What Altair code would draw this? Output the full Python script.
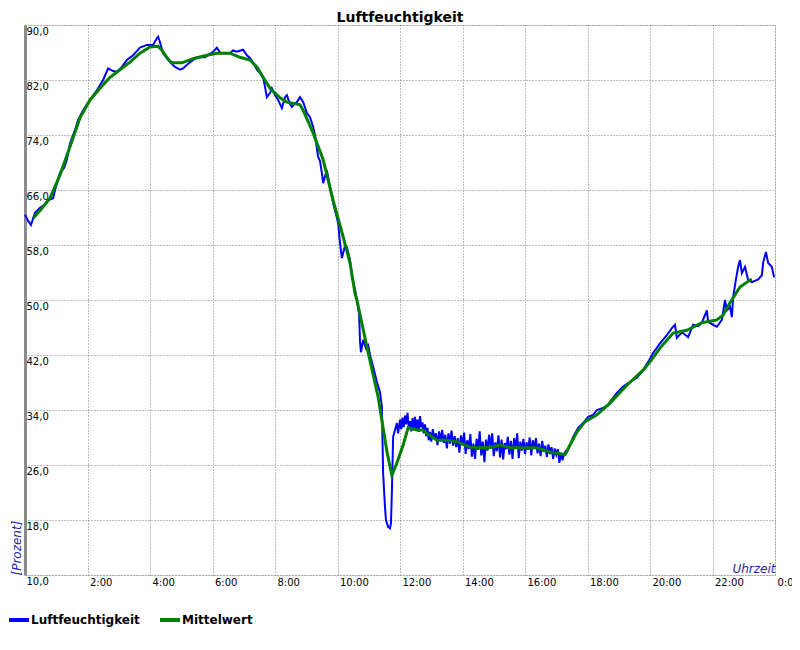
import altair as alt
import pandas as pd

# Luftfeuchtigkeit (blue) – hours, percent
lf_hours = [0.00, 0.10, 0.19, 0.32, 0.48, 0.61, 0.74, 0.90, 0.96, 1.12, 1.25, 1.34, 1.44, 1.60, 1.70, 1.86,
            2.08, 2.30, 2.50, 2.66, 2.82, 2.94, 3.10, 3.26, 3.46, 3.68, 3.90, 4.10, 4.22, 4.26, 4.32, 4.42,
            4.54, 4.64, 4.80, 4.96, 5.06, 5.18, 5.28, 5.50, 5.76, 5.92, 6.02, 6.14, 6.24, 6.34, 6.56, 6.66,
            6.78, 6.98, 7.10, 7.20, 7.33, 7.42, 7.52, 7.62, 7.68, 7.74, 7.84, 7.90, 8.00, 8.10, 8.22, 8.32,
            8.38, 8.48, 8.54, 8.64, 8.70, 8.80, 8.90, 9.02, 9.12, 9.22, 9.28, 9.38, 9.44, 9.50, 9.54, 9.66,
            9.76, 9.86, 9.95, 10.02, 10.08, 10.14, 10.24, 10.30, 10.40, 10.46, 10.56, 10.62, 10.69, 10.72,
            10.75, 10.82, 10.91, 10.98, 11.04, 11.14, 11.26, 11.36, 11.42, 11.46, 11.52, 11.55, 11.62, 11.68,
            11.71, 11.74, 11.78, 11.84, 11.90, 11.94,
            12.00, 12.04, 12.08, 12.12, 12.16, 12.20, 12.24, 12.28, 12.32, 12.36, 12.40, 12.44, 12.48, 12.52,
            12.56, 12.60, 12.64, 12.68, 12.72, 12.76, 12.80, 12.84, 12.88, 12.92, 12.96, 13.00, 13.05, 13.10,
            13.15, 13.20, 13.25, 13.30, 13.35, 13.40, 13.45, 13.50, 13.55, 13.60, 13.65, 13.70, 13.75, 13.80,
            13.85, 13.90, 13.95, 14.00, 14.05, 14.10, 14.15, 14.20, 14.25, 14.30, 14.35, 14.40, 14.45, 14.50,
            14.55, 14.60, 14.65, 14.70, 14.75, 14.80, 14.85, 14.90, 14.95, 15.00, 15.05, 15.10, 15.15, 15.20,
            15.25, 15.30, 15.35, 15.40, 15.45, 15.50, 15.55, 15.60, 15.65, 15.70, 15.75, 15.80, 15.85, 15.90,
            15.95, 16.00, 16.05, 16.10, 16.15, 16.20, 16.25, 16.30, 16.35, 16.40, 16.45, 16.50, 16.55, 16.60,
            16.65, 16.70, 16.75, 16.80, 16.85, 16.90, 16.95, 17.00, 17.05, 17.10, 17.15, 17.20, 17.25, 17.30,
            17.34, 17.44, 17.54, 17.70, 17.86, 18.02, 18.18, 18.30, 18.50, 18.66, 18.72, 18.94,
            19.14, 19.36, 19.58, 19.78, 19.94, 20.10, 20.32, 20.54, 20.70, 20.80, 20.86, 21.02, 21.22, 21.38,
            21.54, 21.66, 21.82, 21.86, 22.02, 22.14, 22.30, 22.40, 22.46, 22.56, 22.62, 22.66, 22.75, 22.82,
            22.88, 22.94, 23.04, 23.14, 23.26, 23.46, 23.58, 23.62, 23.71, 23.78, 23.90, 23.97]
lf_values = [62.4, 61.5, 60.9, 62.7, 63.4, 63.8, 64.5, 64.8, 66.0, 68.5, 69.2, 70.4, 72.8, 74.7, 76.2, 77.6,
             79.1, 80.5, 82.0, 83.7, 83.3, 83.2, 83.9, 84.9, 85.6, 86.7, 87.1, 87.1, 88.1, 88.3, 87.5, 85.9,
             85.2, 84.6, 83.9, 83.5, 83.7, 84.2, 84.6, 85.3, 85.3, 85.8, 86.1, 86.7, 86.0, 85.9, 85.9, 86.3,
             86.1, 86.4, 85.6, 85.2, 84.3, 83.5, 83.0, 82.4, 81.0, 79.5, 80.1, 80.8, 79.8, 79.1, 77.9, 79.5,
             79.8, 78.5, 78.1, 78.6, 78.8, 79.5, 78.8, 77.2, 76.6, 75.2, 74.0, 70.8, 70.2, 68.5, 67.0, 68.9,
             66.4, 64.1, 62.5, 61.2, 58.3, 56.1, 57.9, 57.7, 55.8, 53.4, 51.5, 50.0, 48.0, 44.0,
             42.4, 44.2, 43.0, 43.4, 42.0, 40.3, 38.1, 36.6, 34.5, 24.8, 19.9, 18.0, 17.0, 16.8,
             17.5, 22.0, 30.1, 31.1, 32.1, 30.6,
             32.6, 31.2, 32.9, 31.5, 33.2, 31.9, 33.6, 31.6, 32.4, 30.9, 32.8, 31.4, 33.0, 31.2,
             32.6, 30.8, 33.1, 31.5, 32.2, 30.6, 31.9, 30.2, 31.4, 29.6, 30.8, 29.4, 31.2, 29.8,
             30.6, 28.9, 30.9, 29.5, 31.1, 29.2, 30.4, 28.4, 30.6, 29.1, 31.0, 28.8, 30.2, 28.6,
             29.9, 27.8, 30.3, 28.9, 30.7, 27.6, 29.6, 28.3, 30.5, 27.2, 29.1, 26.9, 29.8, 28.2,
             30.9, 27.4, 29.4, 26.4, 29.7, 28.1, 30.4, 28.6, 30.6, 27.3, 29.3, 28.0, 30.3, 27.1,
             29.7, 26.8, 29.2, 28.3, 30.1, 27.5, 29.5, 26.9, 29.9, 28.4, 30.6, 27.0, 29.4, 28.1,
             29.8, 27.6, 29.3, 28.2, 30.0, 27.4, 29.6, 28.3, 29.9, 27.7, 29.1, 27.3, 29.5, 27.9,
             28.8, 27.2, 29.0, 27.6, 28.6, 26.9, 28.4, 27.5, 28.3, 26.3, 27.8, 26.7, 27.6, 28.0,
             27.9, 28.9, 30.1, 31.4, 32.1, 33.0, 33.3, 34.0, 34.3, 34.7, 35.2, 36.5,
             37.4, 38.1, 38.7, 39.8, 41.0, 42.3, 43.7, 44.9, 45.9, 46.4, 44.5, 45.3, 44.6, 46.4,
             46.2, 46.7, 48.5, 46.8, 46.4, 46.1, 47.1, 50.0, 48.5, 49.0, 47.5, 50.4, 53.0, 54.8,
             55.8, 53.9, 54.8, 52.9, 52.6, 53.0, 53.6, 55.4, 57.0, 55.4, 54.8, 53.3]

# Mittelwert (green)
mw_hours = [0.26, 0.48, 0.80, 1.12, 1.44, 1.76, 2.08, 2.40, 2.72, 3.04, 3.36, 3.68, 4.00, 4.26, 4.42, 4.58,
            4.70, 5.02, 5.38, 5.82, 6.14, 6.56, 6.88, 7.20, 7.42, 7.62, 7.84, 8.16, 8.38, 8.58, 8.80, 8.90,
            9.22, 9.54, 9.86, 10.18, 10.40, 10.56, 10.62, 10.94, 11.30, 11.42, 11.58, 11.74, 11.90, 12.10,
            12.26, 12.54, 12.74, 12.86, 13.18, 13.50, 13.82, 14.24, 14.50, 14.88, 15.20, 15.52, 16.38, 16.80,
            17.28, 17.44, 17.66, 17.92, 18.30, 18.72, 19.26, 19.78, 20.00, 20.32, 20.74, 21.18, 21.66, 22.14,
            22.34, 22.56, 22.88, 23.20, 23.26]
mw_values = [61.9, 63.0, 64.8, 68.2, 72.3, 76.5, 79.1, 80.8, 82.4, 83.5, 84.6, 85.9, 86.8, 86.9, 86.1, 85.0,
             84.5, 84.5, 85.1, 85.6, 85.9, 85.9, 85.3, 84.9, 83.9, 82.4, 80.8, 79.4, 78.8, 78.6, 78.4, 77.6,
             74.3, 70.4, 64.5, 59.2, 55.4, 51.0, 50.0, 43.2, 35.9, 32.5, 28.0, 24.5, 26.3, 28.9,
             31.4, 31.1, 31.1, 30.6, 29.6, 29.6, 29.4, 28.6, 28.5, 28.5, 28.9, 28.5, 28.5, 27.9,
             27.5, 28.9, 30.8, 32.3, 33.3, 35.0, 37.6, 39.8, 41.0, 43.0, 45.2, 45.6, 46.7, 47.1,
             47.8, 49.6, 51.9, 52.9, 53.0]

series_names = ["Luftfeuchtigkeit", "Mittelwert"]
series_colors = ["#0000ff", "#008000"]
y_ticks = [10, 18, 26, 34, 42, 50, 58, 66, 74, 82, 90]
x_ticks = [0, 2, 4, 6, 8, 10, 12, 14, 16, 18, 20, 22, 24]

df_lf = pd.DataFrame({"t": lf_hours, "v": lf_values, "s": series_names[0]})
df_mw = pd.DataFrame({"t": mw_hours, "v": mw_values, "s": series_names[1]})

font = "DejaVu Sans"
axis_blue = "#2424b0"

x_enc = alt.X(
    "t:Q",
    scale=alt.Scale(domain=[0, 24], nice=False, zero=False),
    axis=alt.Axis(
        values=x_ticks, domain=False, ticks=False, tickSize=0,
        grid=True, gridDash=[1, 2], gridColor="#7a7a7a", gridWidth=1,
        labelExpr="datum.value == 0 ? '' : (datum.value % 24) + ':00'",
        labelAlign="left", labelBaseline="top", labelPadding=2, labelOffset=2,
        labelFlush=False, labelOverlap=False, labelFont=font, labelFontSize=10, labelColor="#000000",
        title="Uhrzeit", titleFont=font, titleFontSize=12, titleFontStyle="italic",
        titleFontWeight="normal", titleColor=axis_blue, titleX=750, titleY=-3,
        titleAlign="right", titleBaseline="alphabetic", titleAngle=0,
    ),
)
y_enc = alt.Y(
    "v:Q",
    scale=alt.Scale(domain=[10, 90], nice=False, zero=False),
    axis=alt.Axis(
        values=y_ticks, domain=True, domainColor="#8a8a8a", domainWidth=3,
        ticks=False, tickSize=0,
        grid=True, gridDash=[1, 2], gridColor="#7a7a7a", gridWidth=1,
        labelExpr="replace(format(datum.value, '.1f'), '.', ',')",
        labelAlign="left", labelBaseline="top", labelPadding=-1, labelOffset=1,
        labelOverlap=False, labelFlush=False, labelFont=font, labelFontSize=10, labelColor="#000000",
        title="[Prozent]", titleFont=font, titleFontSize=12, titleFontStyle="italic",
        titleFontWeight="normal", titleColor=axis_blue, titleAngle=-90,
        titleX=-5, titleY=550, titleAlign="left", titleBaseline="alphabetic",
    ),
)
color_enc = alt.Color(
    "s:N",
    scale=alt.Scale(domain=series_names, range=series_colors),
    legend=alt.Legend(
        title=None, orient="none", legendX=-18, legendY=583, direction="horizontal",
        symbolType="stroke", symbolStrokeWidth=4, symbolSize=400, labelFont=font,
        labelFontSize=12, labelFontWeight="bold", labelColor="#000000", labelOffset=0,
        columnPadding=12, padding=0,
    ),
)

blue = alt.Chart(df_lf).mark_line(strokeWidth=2, interpolate="linear").encode(
    x=x_enc, y=y_enc, color=color_enc
)
green = alt.Chart(df_mw).mark_line(strokeWidth=3, interpolate="linear").encode(
    x=x_enc, y=y_enc, color=color_enc
)

chart = alt.layer(blue, green).properties(
    width=750,
    height=550,
    title=alt.TitleParams("Luftfeuchtigkeit", font=font, fontSize=14, fontWeight="bold",
                          color="#000000", offset=0),
    autosize=alt.AutoSizeParams(type="none"),
    padding={"left": 17, "top": 17, "right": 17, "bottom": 60},
).configure_view(stroke=None).configure(font=font, background="#ffffff")

chart.save("out.html", embed_options={"renderer": "svg", "actions": False})
